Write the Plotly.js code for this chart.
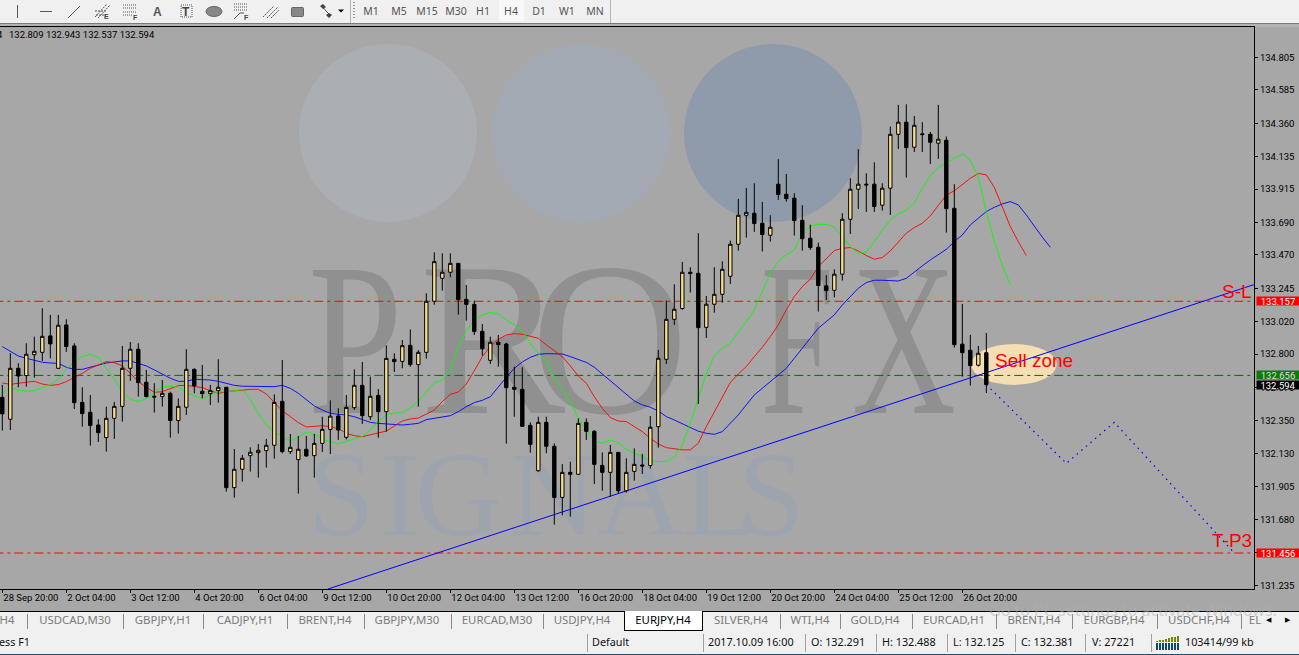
<!DOCTYPE html>
<html><head><meta charset="utf-8">
<script src="https://cdn.plot.ly/plotly-3.0.1.min.js"></script>
<style>
html,body{margin:0;padding:0;width:1299px;height:655px;overflow:hidden;background:#A7A7A7;font-family:"Noto Sans",sans-serif}
#wm,#chrome{position:absolute;left:0;top:0;width:1299px;height:655px;overflow:hidden}
#chart{position:absolute;left:0;top:0;width:1299px;height:655px}
.b{position:absolute}
.t{position:absolute;white-space:nowrap;line-height:1}
.wl{position:absolute;font-family:"Liberation Serif",serif;line-height:1;white-space:pre;transform-origin:left top}
</style></head><body>
<div id="wm"></div>
<div id="chrome"></div>
<div id="chart"></div>
<script>
// ---------- OHLC (one value per 4-hour bar) ----------
const opens=[132.508,132.360,132.704,132.655,132.796,132.812,132.923,132.704,132.997,132.855,132.474,132.407,132.321,132.236,132.366,132.447,132.704,132.833,132.610,132.515,132.513,132.535,132.351,132.441,132.697,132.549,132.533,132.553,132.576,131.898,132.022,132.114,132.134,132.148,132.184,132.481,132.141,132.087,132.157,132.114,
132.197,132.291,132.382,132.238,132.438,132.589,132.377,132.521,132.411,132.765,132.751,132.859,132.729,132.812,133.157,133.312,133.353,133.413,133.170,133.136,132.954,132.758,132.880,132.868,132.576,132.562,132.319,132.012,132.339,132.177,131.832,132.001,131.988,132.339,132.278,132.048,132.001,132.136,131.877,132.008,
132.051,132.047,132.310,132.765,133.035,133.108,133.353,133.346,132.981,133.137,133.204,133.326,133.542,133.738,133.752,133.684,133.603,133.948,133.880,133.853,133.704,133.583,133.522,133.261,133.231,133.340,133.711,133.914,133.948,133.948,133.806,133.921,134.285,134.367,134.198,134.288,134.285,134.225,134.245,133.785,132.867,132.826,132.725,132.809];
const highs=[132.592,132.806,132.738,132.873,132.918,133.110,133.065,133.065,133.035,132.873,132.576,132.524,132.360,132.445,132.477,132.855,132.882,132.873,132.693,132.603,132.625,132.546,132.501,132.833,132.704,132.727,132.592,132.765,132.576,132.159,132.119,132.170,132.193,132.227,132.528,132.760,132.260,132.247,132.247,132.260,
132.377,132.488,132.434,132.524,132.697,132.747,132.648,132.564,132.859,132.805,132.895,132.967,132.828,133.211,133.488,133.481,133.481,133.413,133.267,133.161,133.003,132.918,132.929,132.877,132.715,132.711,132.339,132.377,132.377,132.197,132.057,132.073,132.366,132.366,132.287,132.136,132.186,132.139,132.096,132.163,
132.126,132.382,132.828,133.162,133.272,133.423,133.387,133.617,133.193,133.387,133.427,133.567,133.849,133.923,133.954,133.828,133.738,134.117,134.017,133.887,133.806,133.675,133.553,133.333,133.373,133.752,133.988,134.184,134.022,134.096,133.954,134.337,134.484,134.488,134.409,134.367,134.301,134.484,134.270,133.948,133.139,132.930,132.855,132.943];
const lows=[132.283,132.287,132.576,132.580,132.641,132.754,132.772,132.704,132.815,132.429,132.310,132.182,132.206,132.141,132.227,132.344,132.619,132.513,132.508,132.405,132.445,132.236,132.263,132.389,132.535,132.501,132.456,132.472,131.871,131.830,131.938,132.006,131.965,132.033,132.094,132.130,132.125,131.857,132.107,131.965,
132.139,132.125,132.220,132.224,132.422,132.328,132.355,132.235,132.276,132.679,132.704,132.715,132.445,132.769,133.134,133.229,133.319,133.066,133.026,132.929,132.789,132.733,132.715,132.195,132.377,132.310,132.134,132.006,132.130,131.648,131.711,131.702,131.983,132.220,131.922,131.877,131.837,131.859,131.864,131.945,
131.990,132.026,132.168,132.734,132.997,133.099,133.216,132.463,132.909,133.080,133.148,133.274,133.499,133.587,133.626,133.493,133.560,133.842,133.830,133.601,133.499,133.504,133.087,133.166,133.184,133.297,133.612,133.781,133.761,133.761,133.770,133.740,134.186,133.993,134.166,134.166,134.085,134.119,133.621,132.844,132.648,132.587,132.716,132.537];
const closes=[132.396,132.704,132.652,132.799,132.819,132.920,132.869,132.995,132.851,132.472,132.398,132.317,132.269,132.366,132.447,132.704,132.833,132.607,132.513,132.510,132.535,132.351,132.447,132.697,132.585,132.533,132.553,132.576,131.898,132.022,132.096,132.137,132.150,132.184,132.474,132.141,132.170,132.157,132.112,132.197,
132.292,132.381,132.287,132.440,132.589,132.384,132.515,132.411,132.771,132.749,132.857,132.729,132.812,133.157,133.425,133.353,133.413,133.168,133.136,132.952,132.837,132.880,132.864,132.573,132.562,132.312,132.190,132.339,132.177,131.832,132.001,131.988,132.332,132.278,132.055,132.001,132.136,131.877,132.001,132.055,
132.044,132.306,132.772,133.035,133.103,133.353,133.344,132.979,133.137,133.204,133.373,133.542,133.738,133.758,133.682,133.608,133.657,133.878,133.851,133.702,133.580,133.520,133.263,133.229,133.340,133.711,133.914,133.948,133.943,133.797,133.921,134.285,134.367,134.195,134.346,134.283,134.231,134.252,133.783,132.864,132.810,132.722,132.806,132.594];

// ---------- moving-average lines (Alligator) ----------
const lipsGreen=[132.535,132.576,132.558,132.549,132.553,132.576,132.594,132.630,132.697,132.754,132.783,132.799,132.778,132.704,132.630,132.546,132.495,132.479,132.499,132.540,132.580,132.583,132.576,132.542,132.517,132.501,132.524,132.546,132.546,132.551,132.562,132.495,132.400,132.321,132.276,132.242,132.215,132.238,132.274,132.260,
132.224,132.206,132.193,132.211,132.226,132.244,132.287,132.348,132.389,132.402,132.404,132.438,132.481,132.546,132.607,132.625,132.686,132.850,132.958,133.030,133.066,133.082,133.071,133.030,132.997,132.958,132.873,132.805,132.749,132.636,132.557,132.479,132.366,132.287,132.215,132.197,132.220,132.202,132.157,132.130,
132.108,132.078,132.074,132.076,132.103,132.186,132.333,132.502,132.666,132.788,132.840,132.873,132.952,133.020,133.099,133.222,133.346,133.425,133.470,133.504,133.617,133.666,133.677,133.677,133.657,133.599,133.526,133.481,133.488,133.560,133.639,133.707,133.747,133.774,133.819,133.921,134.004,134.062,134.090,134.123,
134.153,134.112,133.995,133.763,133.560,133.403,133.267];
const teethRed=[132.605,132.596,132.603,132.610,132.616,132.598,132.589,132.594,132.614,132.643,132.670,132.704,132.724,132.749,132.742,132.720,132.670,132.614,132.576,132.542,132.546,132.569,132.587,132.589,132.583,132.574,132.553,132.535,132.546,132.551,132.558,132.562,132.562,132.531,132.472,132.418,132.378,132.337,132.308,132.310,
132.316,132.310,132.296,132.265,132.249,132.242,132.253,132.269,132.280,132.314,132.348,132.362,132.368,132.395,132.422,132.479,132.528,132.544,132.598,132.688,132.783,132.850,132.900,132.929,132.938,132.934,132.918,132.907,132.862,132.823,132.783,132.720,132.652,132.603,132.512,132.434,132.371,132.348,132.344,132.310,
132.276,132.231,132.193,132.168,132.159,132.153,132.153,132.198,132.310,132.412,132.513,132.608,132.666,132.716,132.783,132.846,132.918,132.997,133.099,133.189,133.256,133.306,133.391,133.448,133.499,133.515,133.520,133.497,133.466,133.441,133.452,133.497,133.560,133.617,133.655,133.684,133.734,133.808,133.876,133.903,
133.943,133.988,134.020,134.011,133.927,133.797,133.662,133.560,133.466];
const jawBlue=[132.851,132.817,132.787,132.772,132.758,132.745,132.740,132.738,132.711,132.697,132.697,132.713,132.729,132.740,132.747,132.754,132.754,132.738,132.720,132.693,132.666,132.637,132.616,132.616,132.630,132.630,132.625,132.616,132.601,132.589,132.583,132.583,132.585,132.585,132.580,132.589,132.569,132.535,132.490,132.450,
132.422,132.400,132.393,132.389,132.377,132.359,132.339,132.332,132.328,132.323,132.321,132.326,132.332,132.357,132.366,132.373,132.384,132.411,132.445,132.472,132.488,132.512,132.580,132.643,132.704,132.747,132.778,132.798,132.803,132.803,132.801,132.783,132.765,132.744,132.711,132.666,132.621,132.573,132.528,132.483,
132.457,132.441,132.416,132.378,132.355,132.328,132.303,132.279,132.265,132.258,132.276,132.333,132.389,132.457,132.524,132.569,132.614,132.653,132.704,132.772,132.840,132.907,132.975,133.020,133.065,133.132,133.189,133.245,133.283,133.299,133.299,133.297,133.294,133.312,133.351,133.396,133.436,133.470,133.508,133.560,
133.605,133.673,133.718,133.763,133.792,133.815,133.830,133.808,133.740,133.662,133.590,133.522];

// ---------- hand-drawn objects on the chart ----------
const trendBars=[40.7,156.6],  trendPrices=[131.213,133.272];
const pathBars=[123,133,139,154], pathPrices=[132.594,132.062,132.339,131.456];
const levelEnds=[-1,160];
const stopLoss=133.157, entry=132.656, lastClose=132.594, takeProfit=131.456;
const sellZoneBars=[121.1,131.8], sellZonePrices=[132.592,132.868];

// ---------- axes ----------
const xTickBars=[0,8,16,24,32,40,48,56,64,72,80,88,96,104,112,120];
const xTickText=['28 Sep 20:00','2 Oct 04:00','3 Oct 12:00','4 Oct 20:00','6 Oct 04:00','9 Oct 12:00','10 Oct 20:00','12 Oct 04:00','13 Oct 12:00','16 Oct 20:00','18 Oct 04:00','19 Oct 12:00','20 Oct 20:00','24 Oct 04:00','25 Oct 12:00','26 Oct 20:00'];
const yTicks=[134.805,134.585,134.360,134.135,133.915,133.690,133.470,133.245,133.020,132.800,132.575,132.350,132.130,131.905,131.680,131.460,131.235];
const xRange=[-0.2875,156.46], yRange=[131.213,135.010];

// ---------- window chrome text ----------
const tabs=[['H4',7],['USDCAD,M30',75],['GBPJPY,H1',163],['CADJPY,H1',245],['BRENT,H4',325],['GBPJPY,M30',407],['EURCAD,M30',497],['USDJPY,H4',582],['EURJPY,H4',663],['SILVER,H4',741],['WTI,H4',810],['GOLD,H4',875],['EURCAD,H1',954],['BRENT,H4',1034],['EURGBP,H4',1114],['USDCHF,H4',1199],['EL',1255]];
const tabSeps=[27,123,203,287,364,451,543,780,840,912,996,1072,1157,1241];
const timeframes=[['M1',371],['M5',399],['M15',427],['M30',456],['H1',483],['H4',511],['D1',539],['W1',567],['MN',595]];
const statusText=[['ess F1',-1],['Default',592],['2017.10.09 16:00',708],['O: 132.291',811],['H: 132.488',882],['L: 132.125',953],['C: 132.381',1021],['V: 27221',1092],['103414/99 kb',1185]];
const statusSeps=[587,703,805,876,947,1015,1085,1151];

function box(p,l,t,w,h,c){const d=document.createElement('div');d.className='b';d.style.cssText=`left:${l}px;top:${t}px;width:${w}px;height:${h}px;background:${c}`;p.appendChild(d);return d;}
function txt(p,s,l,cy,size,c,center,fam){const d=document.createElement('div');d.className='t';d.textContent=s;
 d.style.cssText=`left:${l}px;top:${cy-size/2-0.5}px;font-size:${size}px;color:${c};`+(center?'transform:translateX(-50%);':'')+(fam?`font-family:${fam};`:'');p.appendChild(d);return d;}

// watermark behind the chart
const wm=document.getElementById('wm');
[[388,'#ABAFB4'],[581,'#A2A9B3'],[773,'#8F9BAB']].forEach(([cx,c])=>{const d=box(wm,cx-89,44,178,178,c);d.style.borderRadius='50%';});
[['P',308,.78],['R',420,1],['O',531,1],['F',761,.6],['X',852,.66]].forEach(([s,l,k])=>{const d=document.createElement('div');d.className='wl';d.textContent=s;d.style.cssText=`left:${l}px;top:231px;font-size:218px;color:#909090;transform:scaleX(${k})`;wm.appendChild(d);});
[['S',308],['I',380],['G',415],['N',510],['A',597],['L',683],['S',738]].forEach(([s,l])=>{const d=document.createElement('div');d.className='wl';d.textContent=s;d.style.cssText=`left:${l}px;top:435px;font-size:120px;color:#9EA4AD`;wm.appendChild(d);});

// window chrome
const ch=document.getElementById('chrome');
box(ch,0,0,1299,23,'#F0F0F0');box(ch,0,23,1299,1,'#7A7A7A');box(ch,0,24,1299,3,'#B4B4B4');
box(ch,350,0,1,23,'#B5B5B5');box(ch,610,0,1,23,'#B5B5B5');
box(ch,499,0,25,21,'#F8F8F8');
timeframes.forEach(([s,x])=>txt(ch,s,x,12,10.5,'#555',true));
const icons=document.createElementNS('http://www.w3.org/2000/svg','svg');
icons.setAttribute('width','345');icons.setAttribute('height','23');icons.style.cssText='position:absolute;left:0;top:0';
icons.innerHTML=`<g stroke="#555" stroke-width="1" fill="none">
<path d="M17.5 5V18M40 11.5H52M68 18L80 6"/>
<path d="M95 17L107 4M98 18L110 5M95 11H107M96 15H106" stroke-dasharray="2 1"/>
<path d="M123 5H136M123 8H136M123 12H136M123 15H132" stroke-dasharray="1 1"/>
<path d="M181 5H192V17H181Z" stroke-dasharray="1 1"/>
<path d="M234 4H248M234 7H248M234 10H248" stroke-dasharray="1 1"/>
<path d="M234 19L240 13H244"/>
<path d="M263 17L274 6M267 18L278 7M271 18L279 10" stroke-dasharray="2 1"/>
<path d="M322 6L326 11L330 15"/></g>
<ellipse cx="214" cy="11.5" rx="8" ry="5" fill="#888" stroke="#666"/>
<rect x="291.5" y="7.5" width="12" height="9" rx="1" fill="#888" stroke="#666"/>
<path d="M320 6l3-2 3 3-3 2zM326 15l3-2 3 2-3 3z" fill="#444"/><path d="M338 9.5h6l-3 3z" fill="#000"/>
<g fill="#444" font-family="Liberation Sans" font-weight="bold"><text x="104" y="19" font-size="7">E</text><text x="133" y="20" font-size="7">F</text><text x="244" y="20" font-size="7">F</text></g>
<text x="153" y="16" font-family="Liberation Sans" font-size="12" font-weight="bold" fill="#555">A</text>
<text x="182" y="16" font-family="Liberation Sans" font-size="12" font-weight="bold" fill="#444">T</text>`;
ch.appendChild(icons);
for(let k=0;k<6;k++)box(ch,353,2+k*3,2,1,'#999');
txt(ch,'4',-3,35,9.5,'#000',false,'Roboto');
txt(ch,'132.809 132.943 132.537 132.594',9,35,9.5,'#000',false,'Roboto');

// tab bar and status bar
box(ch,0,611,1299,1,'#000');box(ch,0,612,1299,20,'#F0F0F0');box(ch,0,632,1299,22,'#F0F0F0');box(ch,0,654,1299,1,'#1F4E6E');
box(ch,624,611,79,19,'#FFF');box(ch,624,611,1,19,'#000');box(ch,702,611,1,19,'#000');box(ch,624,630,79,1,'#000');
tabSeps.forEach(x=>box(ch,x,614,1,15,'#8A8A8A'));
txt(ch,'Go to PC settings to activate Windows.',989,610,16,'rgba(175,175,175,.5)');
tabs.forEach(([s,x])=>txt(ch,s,x,620.5,11.4,s==='EURJPY,H4'?'#000':'#7A7A7A',true));
txt(ch,'\u25C0',1266,620,7,'#000');txt(ch,'\u25B6',1285,620,7,'#000');
statusSeps.forEach(x=>box(ch,x,634,1,18,'#A0A0A0'));
statusText.forEach(([s,x])=>txt(ch,s,x,643,10.8,'#111'));
for(let k=0;k<8;k++){box(ch,1156+k*3,643,2,7,'#0E4A6C');box(ch,1156+k*3,636+(7-k)*0.7,2,6-(7-k)*0.7,'#6B8800');}

// chart
const barIdx=opens.map((_,i)=>i);
const idx=a=>a.map((_,i)=>i);
const thin=(name,x,y,color,dash,w)=>({type:'scatter',mode:'lines',name,x,y,line:{color,width:w||0.9,dash:dash||'solid'},hoverinfo:'skip',showlegend:false,xaxis:'x',yaxis:'y'});
const hl=(name,v,color)=>thin(name,levelEnds,[v,v],color,'9px,4px,3px,4px',1);
const traces=[
 hl('S-L',stopLoss,'#FF0000'),hl('Entry',entry,'#0A6A0A'),hl('T-P3',takeProfit,'#FF0000'),
 thin('Jaw',idx(jawBlue),jawBlue,'#0000FF'),thin('Teeth',idx(teethRed),teethRed,'#FF0000'),thin('Lips',idx(lipsGreen),lipsGreen,'#00FF00'),
 thin('Trend',trendBars,trendPrices,'#0000FF',null,1),
 thin('Path',pathBars,pathPrices,'#0000FF','1.5px,4.5px',1.2),
 {type:'candlestick',name:'EURJPY,H4',x:barIdx,open:opens,high:highs,low:lows,close:closes,xaxis:'x2',yaxis:'y2',showlegend:false,hoverinfo:'skip',
  increasing:{line:{color:'#000',width:1},fillcolor:'#F7E08F'},decreasing:{line:{color:'#000',width:1},fillcolor:'#000'},whiskerwidth:0}
];
const priceTag=(v,bg,fg)=>({xref:'paper',yref:'y',x:1,y:v,xshift:1.5,xanchor:'left',yanchor:'middle',text:v.toFixed(3),showarrow:false,bgcolor:bg,font:{family:'Roboto',size:9.5,color:fg},width:42,height:8,borderpad:0,align:'center'});
const label=(s,x,y,size)=>({xref:'x',yref:'y',x,y,text:s,showarrow:false,xanchor:'center',yanchor:'middle',font:{family:'Liberation Sans',size,color:'#FF0000'},borderpad:0});
const axisFont={family:'Roboto',size:9.5,color:'#000'};
const layout={
 width:1299,height:655,margin:{l:0,r:45,t:27,b:66,pad:0},
 paper_bgcolor:'rgba(0,0,0,0)',plot_bgcolor:'rgba(0,0,0,0)',showlegend:false,boxgap:0.4,dragmode:false,
 font:axisFont,
 xaxis:{range:xRange,tickmode:'array',tickvals:xTickBars,ticktext:xTickText,tickangle:0,ticks:'outside',ticklen:3,tickcolor:'#000',ticklabelposition:'outside right',showgrid:false,zeroline:false,showline:true,linecolor:'#000',linewidth:1,mirror:true,rangeslider:{visible:false},tickfont:axisFont,fixedrange:true},
 yaxis:{range:yRange,side:'right',tickmode:'array',tickvals:yTicks,ticktext:yTicks.map(v=>v.toFixed(3)),ticks:'outside',ticklen:3,tickcolor:'#000',showgrid:false,zeroline:false,showline:true,linecolor:'#000',linewidth:1,tickfont:axisFont,fixedrange:true},
 xaxis2:{range:xRange,overlaying:'x',visible:false,rangeslider:{visible:false},fixedrange:true},
 yaxis2:{range:yRange,overlaying:'y',visible:false,fixedrange:true},
 shapes:[{type:'circle',xref:'x',yref:'y',x0:sellZoneBars[0],x1:sellZoneBars[1],y0:sellZonePrices[0],y1:sellZonePrices[1],fillcolor:'#F5DEB3',line:{width:0},layer:'below'}],
 annotations:[
  priceTag(stopLoss,'#FF0000','#FFF'),priceTag(entry,'#0E7A0E','#DDD'),priceTag(lastClose,'#000','#FFF'),priceTag(takeProfit,'#FF0000','#FFF'),
  label('Sell zone',128.9,132.760,19),label('S-L',154.3,133.223,19),label('T-P3',153.7,131.544,19)
 ]
};
Plotly.newPlot('chart',traces,layout,{displayModeBar:false,staticPlot:true});
</script>
</body></html>
